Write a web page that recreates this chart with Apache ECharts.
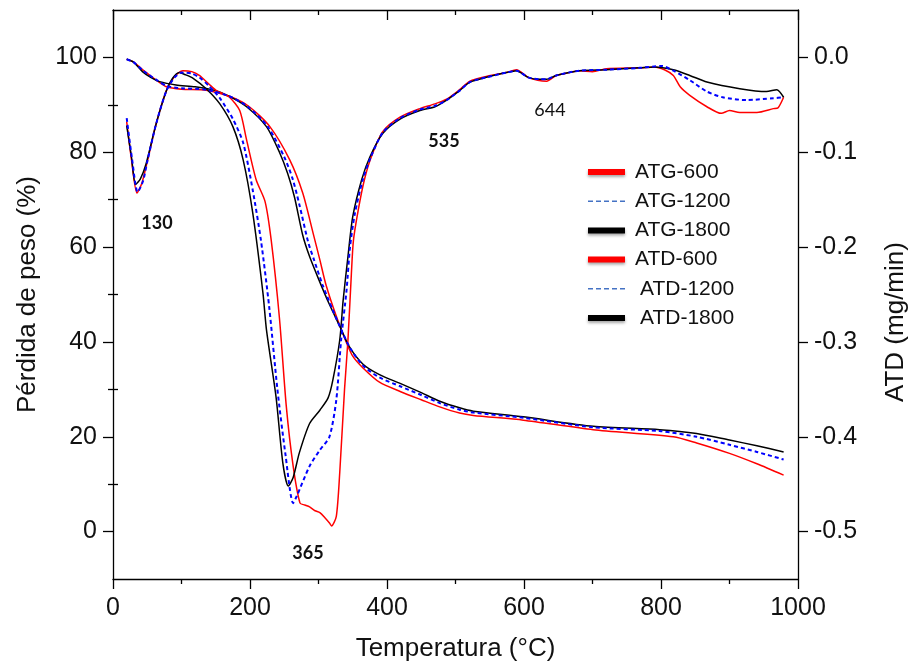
<!DOCTYPE html>
<html>
<head>
<meta charset="utf-8">
<script src="https://cdn.jsdelivr.net/npm/echarts@6/dist/echarts.min.js"></script>
<style>
  html, body { margin: 0; padding: 0; background: #fff; }
  #chart { width: 909px; height: 670px; }
</style>
</head>
<body>
<div id="chart"></div>
<script>
// Temperatura (°C) vs pérdida de peso (%)
const atg600 = [[20,99.6],[30,99.0],[45,97.2],[63,95.2],[78,93.8],[100,93.3],[136,93.1],[170,91.8],[199,89.6],[229,85.4],[258,78.4],[277,71.4],[292,63],[302,57.3],[311,52],[326,45.4],[341,39.8],[350,37],[365,34.5],[389,31.5],[420,29.5],[450,27.8],[477,26.3],[506,25],[526,24.5],[599,23.5],[701,21.5],[818,20],[852,18.7],[900,16.5],[940,14.3],[979,11.9]]
const atg1200 = [[20,99.6],[30,99.0],[45,97.1],[63,95.3],[78,94],[100,93.5],[136,93.2],[170,91.8],[197,89.6],[226,85.4],[250,79],[262,74.5],[272,69],[285,61],[293,57.5],[306,52],[320,47],[335,42],[347,38.5],[365,35],[389,32.5],[420,30.6],[450,28.8],[477,27.1],[506,25.7],[526,25.1],[599,24],[701,22],[798,21.2],[852,20],[900,18.3],[940,16.8],[979,15.2]]
const atg1800 = [[20,99.6],[30,99.0],[43,97],[55,95.8],[68,94.9],[92,94.2],[120,93.8],[150,93.0],[170,91.8],[195,89.6],[224,85.4],[243,80],[255,75.5],[265,70.5],[277,62.5],[287,58],[300,53.3],[315,48.2],[331,43.3],[345,39],[365,35.3],[389,33.1],[420,31.2],[450,29.3],[477,27.5],[506,26.1],[526,25.4],[599,24.2],[701,22.2],[798,21.5],[852,20.7],[900,19.3],[940,18.1],[979,16.8]]

// Temperatura (°C) vs ATD (mg/min)
const atd600 = [[20,-0.068],[27,-0.108],[35,-0.143],[42,-0.133],[50,-0.110],[63,-0.070],[78,-0.035],[90,-0.020],[102,-0.014],[115,-0.015],[126,-0.019],[140,-0.028],[151,-0.035],[170,-0.042],[185,-0.056],[195,-0.087],[209,-0.129],[222,-0.152],[231,-0.193],[243,-0.275],[253,-0.368],[263,-0.431],[273,-0.470],[280,-0.472],[287,-0.474],[295,-0.478],[302,-0.480],[310,-0.486],[316,-0.491],[319,-0.494],[326,-0.484],[331,-0.438],[338,-0.350],[343,-0.298],[348,-0.228],[351,-0.193],[358,-0.161],[367,-0.129],[377,-0.105],[394,-0.078],[419,-0.063],[448,-0.054],[470,-0.049],[487,-0.044],[506,-0.034],[521,-0.025],[545,-0.020],[574,-0.016],[589,-0.013],[606,-0.021],[620,-0.024],[633,-0.025],[647,-0.019],[660,-0.017],[681,-0.014],[700,-0.015],[720,-0.012],[769,-0.011],[790,-0.010],[805,-0.013],[818,-0.019],[828,-0.031],[842,-0.040],[867,-0.052],[888,-0.059],[900,-0.056],[915,-0.058],[940,-0.058],[964,-0.054],[971,-0.053],[979,-0.042]]
const atd1200 = [[20,-0.064],[28,-0.108],[36,-0.142],[44,-0.130],[50,-0.110],[63,-0.070],[78,-0.035],[90,-0.021],[100,-0.016],[115,-0.017],[126,-0.021],[140,-0.030],[156,-0.043],[175,-0.065],[190,-0.090],[204,-0.140],[216,-0.193],[228,-0.263],[240,-0.350],[252,-0.420],[263,-0.470],[268,-0.463],[287,-0.431],[302,-0.414],[316,-0.400],[326,-0.361],[333,-0.298],[341,-0.245],[346,-0.200],[353,-0.165],[365,-0.128],[377,-0.104],[394,-0.079],[419,-0.064],[448,-0.055],[470,-0.051],[487,-0.045],[506,-0.035],[521,-0.026],[545,-0.021],[574,-0.016],[589,-0.014],[606,-0.021],[623,-0.023],[633,-0.023],[647,-0.019],[681,-0.014],[720,-0.013],[769,-0.011],[801,-0.009],[818,-0.014],[842,-0.024],[867,-0.036],[890,-0.042],[925,-0.045],[964,-0.043],[979,-0.042]]
const atd1800 = [[20,-0.072],[27,-0.105],[33,-0.134],[40,-0.128],[48,-0.113],[63,-0.070],[78,-0.035],[87,-0.022],[97,-0.016],[105,-0.018],[117,-0.022],[136,-0.033],[156,-0.049],[175,-0.073],[190,-0.108],[204,-0.164],[219,-0.249],[224,-0.287],[238,-0.358],[248,-0.428],[256,-0.452],[263,-0.443],[272,-0.417],[287,-0.386],[302,-0.372],[314,-0.359],[321,-0.340],[331,-0.298],[336,-0.256],[343,-0.210],[350,-0.168],[363,-0.129],[375,-0.105],[394,-0.080],[419,-0.065],[448,-0.056],[470,-0.052],[487,-0.045],[506,-0.035],[521,-0.026],[545,-0.021],[574,-0.016],[589,-0.014],[606,-0.021],[623,-0.023],[633,-0.023],[647,-0.019],[681,-0.014],[720,-0.013],[769,-0.011],[790,-0.010],[818,-0.013],[842,-0.019],[867,-0.026],[915,-0.033],[954,-0.036],[969,-0.034],[979,-0.042]]

const leftTicks = [0, 20, 40, 60, 80, 100]
const leftMinor = [10, 30, 50, 70, 90]
const rightTicks = [-0.5, -0.4, -0.3, -0.2, -0.1, 0]
const rightMinor = [-0.45, -0.35, -0.25, -0.15, -0.05]

const FONT = 'Liberation Sans, Arial, sans-serif'
const TXT = '#111'
const RED = '#ff0000'
const BLUE = '#0000ff'
const BLACK = '#000000'

const chart = echarts.init(document.getElementById('chart'))

const axisLine = { show: true, onZero: false, lineStyle: { color: '#000', width: 1.3 } }
const tickStyle = { color: '#000', width: 1.3 }

function line(name, data, color, yIdx, dashed) {
  return {
    name,
    type: 'line',
    xAxisIndex: 0,
    yAxisIndex: yIdx,
    data,
    symbol: 'none',
    smooth: 0.25,
    lineStyle: {
      color,
      width: dashed ? 2 : 1.5,
      type: dashed ? [4, 3] : 'solid',
    },
    itemStyle: { color },
    z: dashed ? 3 : 2,
  }
}

// legend swatches: thick bars for solid curves, thin dashes for the blue ones
const thick = (c) => ({ lineStyle: { color: c, width: 6, type: 'solid', shadowBlur: 3, shadowColor: 'rgba(0,0,0,0.35)', shadowOffsetY: 2 } })
const thin = { lineStyle: { color: '#4472c4', width: 1.5, type: [5, 3] } }

const option = {
  backgroundColor: '#fff',
  animation: false,
  grid: { left: 113, right: 111, top: 10, bottom: 91 },
  legend: {
    orient: 'vertical',
    left: 580,
    top: 156,
    itemWidth: 37,
    itemHeight: 14,
    itemGap: 7.2,
    itemStyle: { opacity: 0 },
    textStyle: { fontFamily: FONT, fontSize: 21, color: TXT, lineHeight: 22, padding: [0, 0, 0, 5] },
    data: [
      { name: 'ATG-600', ...thick(RED) },
      { name: 'ATG-1200', ...thin },
      { name: 'ATG-1800', ...thick(BLACK) },
      { name: 'ATD-600', ...thick(RED) },
      { name: 'ATD-1200', ...thin, textStyle: { padding: [0, 0, 0, 10] } },
      { name: 'ATD-1800', ...thick(BLACK), textStyle: { padding: [0, 0, 0, 10] } },
    ],
  },
  xAxis: [
    {
      type: 'value',
      position: 'bottom',
      min: 0,
      max: 1000,
      interval: 200,
      axisLine,
      axisTick: { show: true, length: 10, lineStyle: tickStyle },
      minorTick: { show: true, splitNumber: 2, length: 5, lineStyle: tickStyle },
      splitLine: { show: false },
      axisLabel: { fontFamily: FONT, fontSize: 25, color: TXT, margin: 17, formatter: (v) => String(v) },
      name: 'Temperatura (°C)',
      nameLocation: 'middle',
      nameGap: 57,
      nameTextStyle: { fontFamily: FONT, fontSize: 26, color: TXT },
    },
    {
      type: 'value',
      position: 'top',
      min: 0,
      max: 1000,
      interval: 200,
      axisLine,
      axisTick: { show: true, inside: true, length: 10, lineStyle: tickStyle },
      minorTick: { show: true, splitNumber: 2, length: 5, lineStyle: tickStyle },
      splitLine: { show: false },
      axisLabel: { show: false },
    },
  ],
  yAxis: [
    {
      type: 'value',
      position: 'left',
      min: -10,
      max: 110,
      axisLine,
      axisTick: { show: true, length: 10, lineStyle: tickStyle, customValues: leftTicks },
      splitLine: { show: false },
      axisLabel: { fontFamily: FONT, fontSize: 25, color: TXT, margin: 16, customValues: leftTicks },
      name: 'Pérdida de peso (%)',
      nameLocation: 'middle',
      nameGap: 72,
      nameTextStyle: { fontFamily: FONT, fontSize: 26, color: TXT },
    },
    {
      type: 'value',
      position: 'right',
      min: -0.55,
      max: 0.05,
      axisLine,
      axisTick: { show: true, length: 10, lineStyle: tickStyle, customValues: rightTicks },
      splitLine: { show: false },
      axisLabel: {
        fontFamily: FONT, fontSize: 25, color: TXT, margin: 16, customValues: rightTicks,
        formatter: (v) => v.toFixed(1),
      },
    },
    {
      type: 'value',
      position: 'left',
      min: -10,
      max: 110,
      axisLine: { show: false },
      axisTick: { show: true, length: 5, lineStyle: tickStyle, customValues: leftMinor },
      splitLine: { show: false },
      axisLabel: { show: false, customValues: leftMinor },
    },
    {
      type: 'value',
      position: 'right',
      min: -0.55,
      max: 0.05,
      axisLine: { show: false },
      axisTick: { show: true, length: 5, lineStyle: tickStyle, customValues: rightMinor },
      splitLine: { show: false },
      axisLabel: { show: false, customValues: rightMinor },
    },
  ],
  graphic: [
    { type: 'text', x: 896, y: 322, rotation: Math.PI / 2, style: { text: 'ATD (mg/min)', fontFamily: FONT, fontSize: 26, fill: TXT, align: 'center', verticalAlign: 'middle' } },
    { type: 'text', x: 157, y: 223, style: { text: '130', fontFamily: 'Lato, sans-serif', fontWeight: 'bold', fontSize: 18, fill: TXT, align: 'center', verticalAlign: 'middle' } },
    { type: 'text', x: 308, y: 553, style: { text: '365', fontFamily: 'Lato, sans-serif', fontWeight: 'bold', fontSize: 18, fill: TXT, align: 'center', verticalAlign: 'middle' } },
    { type: 'text', x: 444, y: 141, style: { text: '535', fontFamily: 'Lato, sans-serif', fontWeight: 'bold', fontSize: 18, fill: TXT, align: 'center', verticalAlign: 'middle' } },
    { type: 'text', x: 550, y: 110, style: { text: '644', fontFamily: 'Lato, sans-serif', fontSize: 18, fill: TXT, align: 'center', verticalAlign: 'middle' } },
  ],
  series: [
    line('ATG-600', atg600, RED, 0, false),
    line('ATG-1200', atg1200, BLUE, 0, true),
    line('ATG-1800', atg1800, BLACK, 0, false),
    line('ATD-600', atd600, RED, 1, false),
    line('ATD-1200', atd1200, BLUE, 1, true),
    line('ATD-1800', atd1800, BLACK, 1, false),
  ],
}

chart.setOption(option)
</script>
</body>
</html>
